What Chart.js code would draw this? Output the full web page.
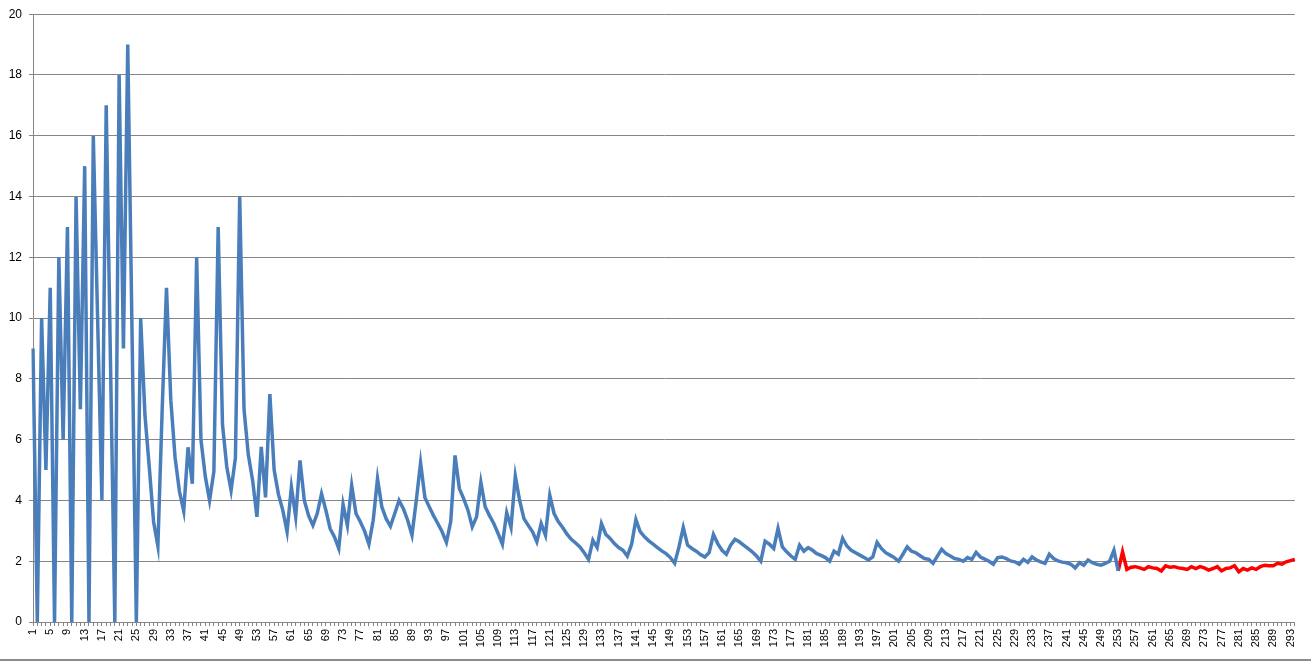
<!DOCTYPE html>
<html>
<head>
<meta charset="utf-8">
<script src="https://cdn.jsdelivr.net/npm/chart.js@4.4.0/dist/chart.umd.min.js"></script>
<style>
  html, body { margin: 0; padding: 0; background: #fff; }
  #wrap { position: relative; width: 1311px; height: 662px; }
  #bottomLine { position: absolute; left: 0; top: 659px; width: 1311px; height: 2px; background: #8c8c8c; }
</style>
</head>
<body>
<div id="wrap">
  <canvas id="chart" width="1311" height="662"></canvas>
  <div id="bottomLine"></div>
</div>
<script>
// categories 1..294, every 4th one is labelled
const categories = [];
for (let i = 1; i <= 294; i++) categories.push(String(i));

// blue series, points 1..253
const blueValues = [
  9, 0, 10, 5, 11, 0, 12, 6, 13, 0,
  14, 7, 15, 0, 16, 10, 4, 17, 8.5, 0,
  18, 9, 19, 9.5, 0, 10, 6.8, 5.1, 3.3, 2.5,
  7, 11, 7.3, 5.4, 4.3, 3.65, 5.75, 4.55, 12, 6,
  4.8, 4.0, 4.95, 13, 6.5, 5.1, 4.33, 5.4, 14, 7,
  5.5, 4.66, 3.46, 5.76, 4.1, 7.5, 5.0, 4.2, 3.68, 2.97,
  4.44, 3.46, 5.32, 4.0, 3.5, 3.18, 3.57, 4.22, 3.68, 3.07,
  2.8, 2.42, 3.87, 3.18, 4.5, 3.57, 3.3, 2.99, 2.56, 3.35,
  4.72, 3.79, 3.4, 3.15, 3.57, 4.0, 3.73, 3.35, 2.86, 4.0,
  5.24, 4.1, 3.79, 3.5, 3.24, 2.97, 2.62, 3.3, 5.48, 4.39,
  4.06, 3.68, 3.13, 3.46, 4.6, 3.79, 3.5, 3.24, 2.91, 2.56,
  3.6, 3.11, 4.8, 4.0, 3.4, 3.18, 2.97, 2.64, 3.24, 2.86,
  4.17, 3.57, 3.3, 3.11, 2.89, 2.72, 2.6, 2.47, 2.28, 2.06,
  2.69, 2.45, 3.24, 2.89, 2.75, 2.58, 2.45, 2.36, 2.17, 2.56,
  3.37, 2.97, 2.8, 2.67, 2.56, 2.45, 2.34, 2.25, 2.12, 1.93,
  2.47, 3.11, 2.53, 2.42, 2.33, 2.22, 2.14, 2.28, 2.88, 2.58,
  2.36, 2.23, 2.53, 2.72, 2.64, 2.53, 2.42, 2.31, 2.17, 2.0,
  2.66, 2.56, 2.42, 3.08, 2.47, 2.31, 2.17, 2.06, 2.53, 2.33,
  2.45, 2.36, 2.25, 2.19, 2.12, 2.0, 2.33, 2.23, 2.75, 2.5,
  2.36, 2.28, 2.2, 2.12, 2.04, 2.14, 2.62, 2.42, 2.28, 2.2,
  2.12, 2.0, 2.23, 2.47, 2.33, 2.28, 2.18, 2.09, 2.06, 1.93,
  2.17, 2.39, 2.25, 2.17, 2.09, 2.06, 2.0, 2.12, 2.06, 2.29,
  2.14, 2.07, 2.0, 1.9, 2.12, 2.14, 2.09, 2.01, 1.98, 1.9,
  2.06, 1.96, 2.14, 2.04, 1.98, 1.93, 2.23, 2.09, 2.01, 1.97,
  1.95, 1.9, 1.78, 1.95, 1.87, 2.04, 1.95, 1.9, 1.87, 1.93,
  2.0, 2.36, 1.68
];

// red series, points 253..294
const redStart = 253;
const redValues = [
  1.68, 2.31, 1.73, 1.8, 1.82, 1.78, 1.73, 1.82, 1.78, 1.76,
  1.68, 1.85, 1.8, 1.82, 1.78, 1.76, 1.73, 1.82, 1.76, 1.82,
  1.78, 1.71, 1.76, 1.82, 1.68, 1.76, 1.78, 1.85, 1.65, 1.76,
  1.71, 1.78, 1.73, 1.82, 1.87, 1.85, 1.85, 1.93, 1.9, 1.98,
  2.02, 2.06
];

const yTicks = [0, 2, 4, 6, 8, 10, 12, 14, 16, 18, 20];

const redData = categories.map((c, i) => i >= redStart - 1 ? redValues[i - (redStart - 1)] : null);

const gridColor = '#868686';

new Chart(document.getElementById('chart'), {
  type: 'line',
  data: {
    labels: categories,
    datasets: [
      {
        data: blueValues,
        borderColor: '#4a7ebb',
        borderWidth: 3.5,
        pointRadius: 0,
        tension: 0,
        fill: false
      },
      {
        data: redData,
        borderColor: '#ff0000',
        borderWidth: 3.5,
        pointRadius: 0,
        tension: 0,
        fill: false
      }
    ]
  },
  options: {
    responsive: false,
    animation: false,
    layout: { padding: { left: 0, right: 14, top: 13, bottom: 0 } },
    plugins: { legend: { display: false }, tooltip: { enabled: false } },
    scales: {
      x: {
        offset: false,
        grid: { drawOnChartArea: false, drawTicks: true, tickLength: 4, color: gridColor },
        border: { color: gridColor },
        ticks: {
          autoSkip: false,
          minRotation: 90,
          maxRotation: 90,
          padding: 3,
          color: '#000',
          font: { family: 'Liberation Sans', size: 11 },
          callback: function (v, i) { return i % 4 === 0 ? categories[i] : ''; }
        },
        afterFit: function (s) { s.height = 40; }
      },
      y: {
        min: 0,
        max: 20,
        afterBuildTicks: function (s) { s.ticks = yTicks.map(v => ({ value: v })); },
        grid: { color: gridColor, tickLength: 4 },
        border: { color: gridColor },
        ticks: {
          padding: 7,
          color: '#000',
          font: { family: 'Liberation Sans', size: 12 }
        },
        afterFit: function (s) { s.width = 33; }
      }
    }
  }
});
</script>
</body>
</html>
